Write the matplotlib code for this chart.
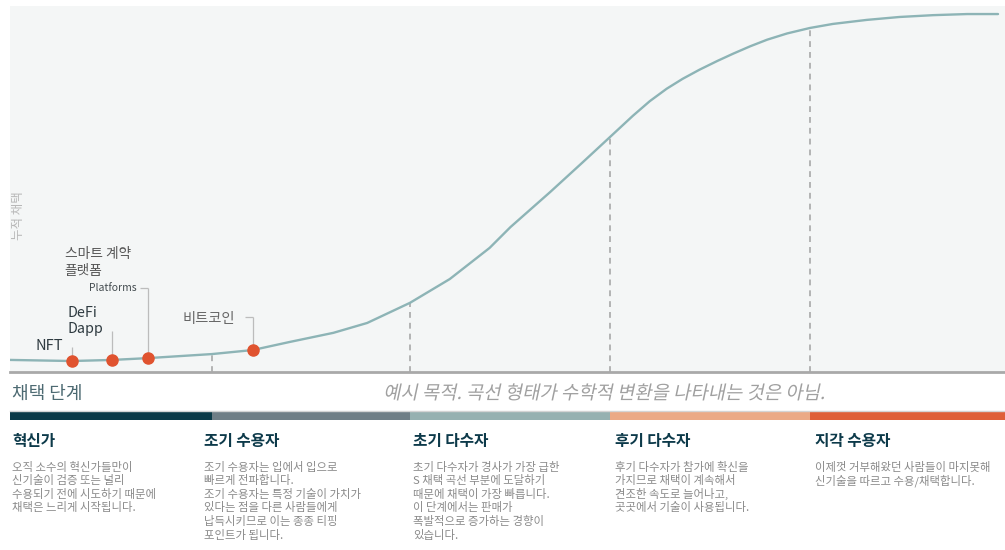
import matplotlib
matplotlib.use("Agg")
import matplotlib.pyplot as plt
from matplotlib.textpath import TextPath
from matplotlib.patches import PathPatch
from matplotlib.font_manager import FontProperties
from matplotlib.transforms import Affine2D, IdentityTransform

plt.rcParams['font.family'] = ['Noto Sans CJK KR', 'DejaVu Sans']

# adoption curve (x: time %, y: cumulative adoption %)
curve_x = [0, 6.2, 10.3, 13.9, 20.3, 24.4, 28.1, 32.5, 35.9, 40.2, 44.2, 48.2,
           50.3, 54.3, 57.6, 60.3, 62.6, 64.3, 66.0, 67.6, 69.3, 71.1, 72.7,
           74.4, 76.1, 78.1, 80.4, 82.7, 86.1, 89.4, 92.8, 96.2, 99.3]
curve_y = [3.3, 3.0, 3.3, 3.8, 4.9, 6.0, 8.2, 10.7, 13.4, 18.9, 25.4, 33.9,
           39.6, 49.2, 57.4, 64.2, 70.0, 74.0, 77.4, 80.1, 82.6, 85.0, 87.0,
           89.0, 90.8, 92.5, 94.0, 95.1, 96.2, 97.0, 97.5, 97.8, 97.8]

# stage boundaries
edge_x = [20.3, 40.2, 60.3, 80.4]
edge_y = [4.9, 18.9, 64.2, 94.0]

# technologies placed on the curve
tech_x = [6.2, 10.3, 13.9, 24.4]
tech_y = [3.0, 3.3, 3.8, 6.0]
tech_top = [6.8, 11.2, 23.0, 15.0]

stage_names = ['혁신가', '조기 수용자', '초기 다수자', '후기 다수자', '지각 수용자']
stage_left = [0, 20.3, 40.2, 60.3, 80.4]
stage_width = [20.3, 19.9, 20.1, 20.1, 19.6]
stage_colors = ['#0b3a48', '#6f7e86', '#96b1b1', '#eba985', '#df5f38']
stage_text = [
    ['오직 소수의 혁신가들만이', '신기술이 검증 또는 널리', '수용되기 전에 시도하기 때문에',
     '채택은 느리게 시작됩니다.'],
    ['조기 수용자는 입에서 입으로', '빠르게 전파합니다.', '조기 수용자는 특정 기술이 가치가',
     '있다는 점을 다른 사람들에게', '납득시키므로 이는 종종 티핑', '포인트가 됩니다.'],
    ['초기 다수자가 경사가 가장 급한', 'S 채택 곡선 부분에 도달하기', '때문에 채택이 가장 빠릅니다.',
     '이 단계에서는 판매가', '폭발적으로 증가하는 경향이', '있습니다.'],
    ['후기 다수자가 참가에 확신을', '가지므로 채택이 계속해서', '견조한 속도로 늘어나고,',
     '곳곳에서 기술이 사용됩니다.'],
    ['이제껏 거부해왔던 사람들이 마지못해', '신기술을 따르고 수용/채택합니다.'],
]
stage_text_x = [12, 204, 413, 615, 815]

W, H = 1005, 550


def fx(px):
    return px / W


def fy(py):
    return 1 - py / H


fig = plt.figure(figsize=(W / 100, H / 100), dpi=100)

ax = fig.add_axes([fx(10), fy(372), 995 / W, 366 / H])
ax.set_xlim(0, 100)
ax.set_ylim(0, 100)
ax.set_facecolor('#f4f6f6')
for s in ['top', 'left', 'right']:
    ax.spines[s].set_visible(False)
ax.spines['bottom'].set_color('#a9a9a9')
ax.spines['bottom'].set_linewidth(2)
ax.set_xticks([])
ax.set_yticks([])

ax.plot(curve_x, curve_y, color='#8db4b6', lw=1.7, solid_capstyle='round',
        solid_joinstyle='round', zorder=3)
ax.vlines(edge_x, 0, edge_y, colors='#a8a8a8', lw=1.2, linestyles=(0, (3.5, 3)), zorder=2)

# leader lines and dots
ax.vlines(tech_x, tech_y, tech_top, colors='#bcbcbc', lw=0.9, zorder=2)
ax.hlines([tech_top[2], tech_top[3]], [13.1, 23.6], [tech_x[2], tech_x[3]],
          colors='#bcbcbc', lw=0.9, zorder=2)
ax.scatter(tech_x, tech_y, s=64, color='#e0532f', zorder=5, clip_on=False)

ax.text(2.6, 7.1, 'NFT', fontsize=10.5, color='#2e3a40', ha='left', va='center', weight='medium')
ax.text(5.8, 16.1, 'DeFi', fontsize=10.3, color='#2e3a40', ha='left', va='center', weight='medium')
ax.text(5.8, 11.7, 'Dapp', fontsize=10.3, color='#2e3a40', ha='left', va='center', weight='medium')
ax.text(5.5, 32.2, '스마트 계약', fontsize=9.9, color='#555555', ha='left', va='center')
ax.text(5.5, 27.6, '플랫폼', fontsize=9.9, color='#555555', ha='left', va='center')
ax.text(12.7, 23.0, 'Platforms', fontsize=7.5, color='#444c50', ha='right', va='center')
ax.text(17.3, 14.5, '비트코인', fontsize=10.3, color='#666666', ha='left', va='center')
ax.text(0.9, 42.6, '누적 채택', rotation=90, fontsize=9, color='#b8b8b8',
        ha='center', va='center')

# stage band
bax = fig.add_axes([fx(10), fy(420), 995 / W, 9 / H])
bax.barh(0, stage_width, left=stage_left, height=1, color=stage_colors)
bax.set_xlim(0, 100)
bax.set_ylim(-0.5, 0.5)
bax.axis('off')
fig.add_artist(plt.Line2D([fx(10), 1], [fy(410.5), fy(410.5)], color='#d4d4d4', lw=1))

fig.text(fx(12), fy(394), '채택 단계', fontsize=13, color='#4d6a72', ha='left', va='center')

# italic note (slanted path, CJK fonts have no italic face)
note = '예시 목적. 곡선 형태가 수학적 변환을 나타내는 것은 아님.'
tp = TextPath((0, 0), note, size=18.8, prop=FontProperties(family='Noto Sans CJK KR'))
ext = tp.get_extents()
tr = Affine2D().skew_deg(12, 0).translate(604 - ext.width / 2 - ext.x0, H - 399)
fig.add_artist(PathPatch(tp, transform=tr + IdentityTransform(), color='#a0a0a0', lw=0))

for name, x0, lines in zip(stage_names, stage_text_x, stage_text):
    fig.text(fx(x0), fy(441), name, fontsize=11.3, weight='bold', color='#0d3a4a',
             ha='left', va='center')
    for i, line in enumerate(lines):
        fig.text(fx(x0), fy(467 + i * 13.6), line, fontsize=8.2, color='#8a8a8a',
                 ha='left', va='center')

fig.savefig('out.png', dpi=100, facecolor='white')
